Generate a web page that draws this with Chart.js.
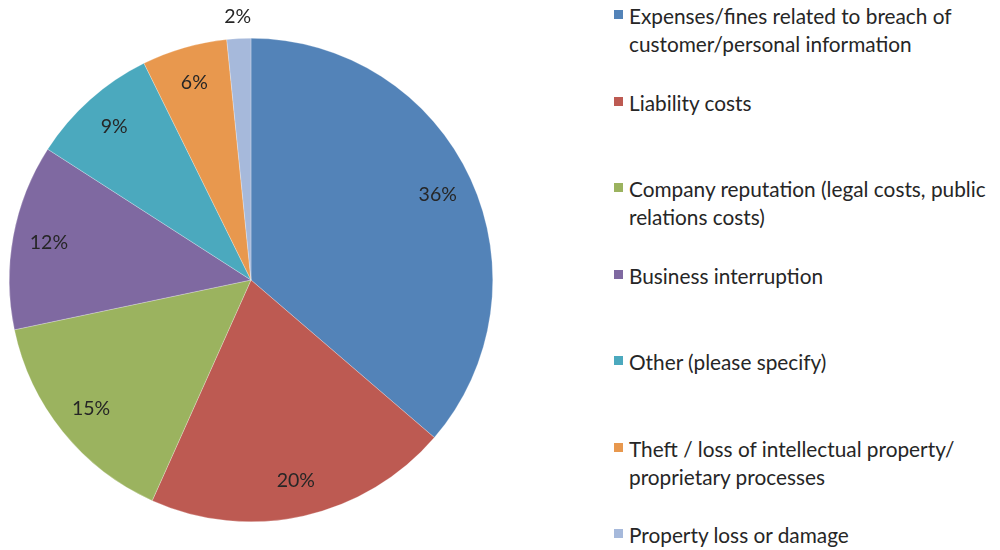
<!DOCTYPE html>
<html>
<head>
<meta charset="utf-8">
<script src="https://cdn.jsdelivr.net/npm/chart.js@4"></script>
<style>
  body { margin: 0; background: #fff; width: 1000px; height: 550px; overflow: hidden; position: relative; font-family: Lato, "Open Sans", sans-serif; }
  #wrap { position: absolute; left: 0; top: 0; width: 502px; height: 550px; }
  #legend { position: absolute; left: 613px; top: 2px; width: 387px; }
  .item { position: relative; height: 86.5px; padding-left: 16px; font-size: 20.8px; line-height: 28px; color: #262626; white-space: nowrap; }
  .box { position: absolute; left: 1px; top: 8px; width: 9px; height: 9px; }
</style>
</head>
<body>
<div id="wrap"><canvas id="pie"></canvas></div>
<div id="legend"></div>
<script>
const categories = [
  'Expenses/fines related to breach of customer/personal information',
  'Liability costs',
  'Company reputation (legal costs, public relations costs)',
  'Business interruption',
  'Other (please specify)',
  'Theft / loss of intellectual property/ proprietary processes',
  'Property loss or damage'
];
// legend lines as they wrap in the picture
const legendLines = [
  ['Expenses/fines related to breach of', 'customer/personal information'],
  ['Liability costs'],
  ['Company reputation (legal costs, public', 'relations costs)'],
  ['Business interruption'],
  ['Other (please specify)'],
  ['Theft / loss of intellectual property/', 'proprietary processes'],
  ['Property loss or damage']
];
// shares; labels show them rounded
const values = [36.3, 20.4, 15.0, 12.4, 8.6, 5.7, 1.6];
const colors = ['#5383B8', '#BD5A52', '#9BB35F', '#7F69A1', '#4BA9BE', '#E8984E', '#A6B9DB'];

// legend
const legend = document.getElementById('legend');
categories.forEach((c, i) => {
  const div = document.createElement('div');
  div.className = 'item';
  div.innerHTML = '<span class="box" style="background:' + colors[i] + '"></span>' + legendLines[i].join('<br>');
  legend.appendChild(div);
});

// percent labels, inside the slices except the small one
const pctLabels = {
  id: 'pctLabels',
  afterDatasetsDraw(chart) {
    const ctx = chart.ctx;
    const arcs = chart.getDatasetMeta(0).data;
    ctx.save();
    ctx.font = '19.5px Lato, "Open Sans", sans-serif';
    ctx.fillStyle = '#262626';
    ctx.textAlign = 'center';
    ctx.textBaseline = 'middle';
    arcs.forEach((arc, i) => {
      const mid = (arc.startAngle + arc.endAngle) / 2;
      const r = values[i] < 4 ? arc.outerRadius * 1.09 : arc.outerRadius * 0.85;
      ctx.fillText(Math.round(values[i]) + '%', arc.x + Math.cos(mid) * r, arc.y + Math.sin(mid) * r);
    });
    ctx.restore();
  }
};

const chart = new Chart(document.getElementById('pie'), {
  type: 'pie',
  data: {
    labels: categories,
    datasets: [{
      data: values,
      backgroundColor: colors,
      borderColor: 'rgba(255,255,255,0.5)',
      borderWidth: 0.5
    }]
  },
  options: {
    responsive: true,
    maintainAspectRatio: false,
    animation: false,
    layout: { padding: { top: 38, bottom: 28, left: 9, right: 9 } },
    plugins: {
      legend: { display: false },
      tooltip: { enabled: false }
    }
  },
  plugins: [pctLabels]
});
</script>
</body>
</html>
